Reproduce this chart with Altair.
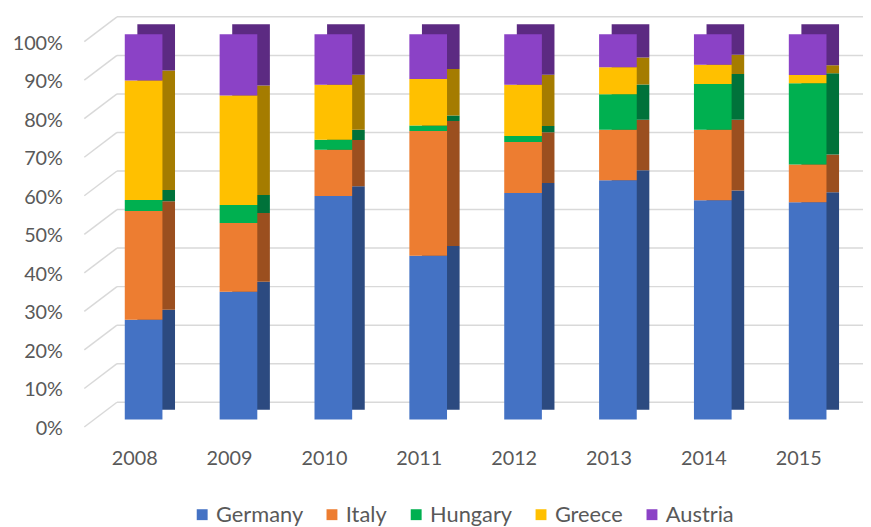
import altair as alt
import pandas as pd

years = ["2008", "2009", "2010", "2011", "2012", "2013", "2014", "2015"]
countries = ["Germany", "Italy", "Hungary", "Greece", "Austria"]
germany = [25.9, 33.2, 58.0, 42.5, 58.8, 62.1, 56.9, 56.4]
italy = [28.2, 17.8, 12.0, 32.4, 13.2, 13.1, 18.3, 9.8]
hungary = [2.9, 4.7, 2.6, 1.4, 1.6, 9.2, 11.9, 21.1]
greece = [31.0, 28.4, 14.3, 12.1, 13.3, 7.0, 5.0, 2.1]
austria = [12.0, 15.9, 13.1, 11.6, 13.1, 8.6, 7.9, 10.6]
grid_values = [0.0, 0.1, 0.2, 0.3, 0.4, 0.5, 0.6, 0.7, 0.8, 0.9, 1.0]

front_colors = ["#4472C4", "#ED7D31", "#00B050", "#FFC000", "#8B42C6"]
side_colors = ["#2C4A80", "#9B4F1F", "#00723A", "#A57C00", "#5C2A82"]

series = [germany, italy, hungary, greece, austria]
rows = []
for ci, (name, vals) in enumerate(zip(countries, series)):
    for y, v in zip(years, vals):
        rows.append({"year": y, "country": name, "idx": ci, "value": v})
df = pd.DataFrame(rows)
grid_df = pd.DataFrame({"v": grid_values})

FONT = "Lato"
GRAY = "#595959"
W, H = 766, 389

x_scale = alt.Scale(domain=years, paddingInner=0.603, paddingOuter=0.3015)
y_scale = alt.Scale(domain=[0, 1])

x_axis = alt.Axis(
    labelAngle=0, domain=False, ticks=False, grid=False,
    labelFont=FONT, labelFontSize=20, labelColor=GRAY,
    labelPadding=29, labelOffset=-9,
)
y_axis = alt.Axis(
    values=grid_values, format=".0%", domain=False, ticks=False, grid=False,
    labelFont=FONT, labelFontSize=20, labelColor=GRAY,
    labelPadding=34, labelOffset=9,
)

back_grid = alt.Chart(grid_df).mark_rule(
    color="#D9D9D9", strokeWidth=1.5, yOffset=-17.5
).encode(
    y=alt.Y("v:Q", scale=y_scale, axis=y_axis, title=None),
    x=alt.value(21),
    x2=alt.value(774),
)

floor_grid = alt.Chart(grid_df).mark_rule(
    color="#D9D9D9", strokeWidth=1.5, yOffset=7.5, y2Offset=-17.5
).encode(
    y=alt.Y("v:Q", scale=y_scale, axis=y_axis, title=None),
    y2="v:Q",
    x=alt.value(-12),
    x2=alt.value(21),
)

side = alt.Chart(df).mark_bar(xOffset=12.7, x2Offset=12.7, yOffset=-10, y2Offset=-10).encode(
    x=alt.X("year:N", scale=x_scale, axis=x_axis, title=None),
    y=alt.Y("value:Q", stack="normalize", scale=y_scale, axis=y_axis, title=None),
    color=alt.Color("country:N", scale=alt.Scale(domain=countries, range=side_colors), legend=None),
    order=alt.Order("idx:Q", sort="ascending"),
)

front = alt.Chart(df).mark_bar().encode(
    x=alt.X("year:N", scale=x_scale, axis=x_axis, title=None),
    y=alt.Y("value:Q", stack="normalize", scale=y_scale, axis=y_axis, title=None),
    color=alt.Color(
        "country:N",
        scale=alt.Scale(domain=countries, range=front_colors),
        legend=alt.Legend(
            title=None, orient="none", direction="horizontal",
            legendX=96, legendY=474,
            symbolType="square", symbolSize=121, symbolStrokeWidth=0,
            labelFont=FONT, labelFontSize=22, labelColor=GRAY,
            labelOffset=3, columnPadding=18,
        ),
    ),
    order=alt.Order("idx:Q", sort="ascending"),
)

chart = alt.layer(back_grid, floor_grid, side, front).resolve_scale(
    color="independent"
).properties(
    width=W,
    height=H,
    autosize=alt.AutoSizeParams(type="none"),
    padding={"left": 89, "top": 24, "right": 8, "bottom": 106},
).configure_view(stroke=None)

chart.save("out.html", embed_options={"renderer": "svg", "actions": False})
